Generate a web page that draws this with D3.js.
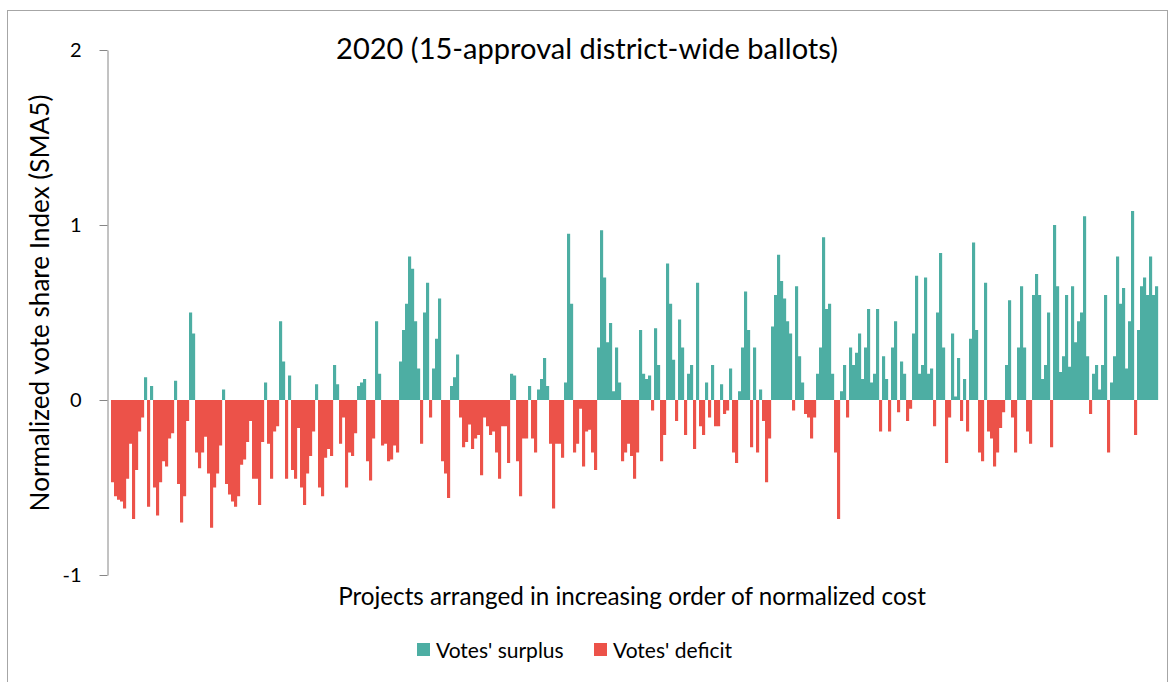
<!DOCTYPE html>
<html>
<head>
<meta charset="utf-8">
<script src="https://cdn.jsdelivr.net/npm/d3@7"></script>
<style>
  body { margin: 0; background: #fff; }
  svg { display: block; }
  text { font-family: Lato, "Open Sans", "DejaVu Sans", sans-serif; fill: #000; }
</style>
</head>
<body>
<svg id="chart" width="1171" height="682"></svg>
<script>
// Chart text
const chartTitle = "2020 (15-approval district-wide ballots)";
const yAxisTitle = "Normalized vote share Index (SMA5)";
const xAxisTitle = "Projects arranged in increasing order of normalized cost";
const seriesNames = ["Votes' surplus", "Votes' deficit"];
const yTickValues = [-1, 0, 1, 2];

// Normalized vote share index (SMA5), projects in increasing order of normalized cost
const sma5 = [
  -0.47,-0.55,-0.57,-0.58,-0.62,-0.45,-0.25,-0.68,-0.40,-0.18,
  -0.10, 0.13,-0.61, 0.08,-0.50,-0.66,-0.47,-0.35,-0.38,-0.22,
  -0.19, 0.11,-0.48,-0.70,-0.55,-0.12, 0.50, 0.38,-0.30,-0.39,
  -0.30,-0.21,-0.42,-0.73,-0.50,-0.42,-0.26, 0.06,-0.48,-0.54,
  -0.58,-0.61,-0.55,-0.37,-0.34,-0.24,-0.12,-0.45,-0.45,-0.60,
  -0.24, 0.10,-0.25,-0.45,-0.18,-0.15, 0.45, 0.22,-0.45, 0.14,
  -0.40,-0.45,-0.16,-0.50,-0.60,-0.42,-0.32,-0.18, 0.09,-0.50,
  -0.55,-0.33,-0.28,-0.32, 0.20, 0.09,-0.25,-0.10,-0.50,-0.30,
  -0.32,-0.19, 0.08, 0.10, 0.12,-0.35,-0.46,-0.22, 0.45, 0.15,
  -0.26,-0.25,-0.35,-0.34,-0.26,-0.30, 0.22, 0.40, 0.55, 0.82,
   0.75, 0.45, 0.18,-0.25, 0.50, 0.67,-0.10, 0.18, 0.35, 0.58,
  -0.35,-0.42,-0.56, 0.08, 0.13, 0.26,-0.10,-0.27,-0.24,-0.14,
  -0.28,-0.22,-0.20,-0.43,-0.10,-0.15,-0.20,-0.18,-0.30,-0.45,
  -0.15,-0.15,-0.36, 0.15, 0.14,-0.35,-0.55,-0.22,-0.22, 0.08,
  -0.22,-0.30, 0.06, 0.12, 0.24, 0.08,-0.25,-0.62,-0.25,-0.25,
  -0.33, 0.10, 0.95, 0.55,-0.30,-0.25,-0.05,-0.38,-0.18,-0.17,
  -0.30,-0.40, 0.30, 0.97, 0.70, 0.33, 0.44, 0.05, 0.30, 0.10,
  -0.35,-0.30,-0.25,-0.32,-0.45,-0.30, 0.40, 0.15, 0.12, 0.14,
  -0.06, 0.41, 0.20,-0.35,-0.20, 0.78, 0.55, 0.23,-0.12, 0.46,
   0.30,-0.20, 0.15, 0.20,-0.28, 0.67,-0.15,-0.20, 0.10,-0.10,
   0.20,-0.15,-0.15, 0.09,-0.08,-0.06, 0.18,-0.30,-0.36, 0.05,
   0.30, 0.62, 0.40,-0.27, 0.30,-0.30, 0.06,-0.12,-0.47,-0.22,
   0.42, 0.60, 0.83, 0.68, 0.58, 0.45, 0.38,-0.06, 0.65, 0.25,
   0.10,-0.08,-0.10,-0.22,-0.10, 0.15, 0.30, 0.93, 0.52, 0.55,
   0.15,-0.30,-0.68, 0.05, 0.20,-0.10, 0.30, 0.20, 0.27, 0.38,
   0.12, 0.30, 0.52, 0.10, 0.15, 0.52,-0.18, 0.25, 0.12,-0.18,
   0.30, 0.45,-0.07, 0.22, 0.15,-0.12,-0.05, 0.38, 0.71, 0.15,
   0.20, 0.70, 0.15, 0.18,-0.15, 0.50, 0.84, 0.30,-0.36,-0.10,
   0.38, 0.02, 0.24,-0.12, 0.12,-0.18, 0.35, 0.90, 0.40,-0.30,
  -0.35, 0.67,-0.18,-0.22,-0.38,-0.30,-0.16,-0.07, 0.20, 0.57,
  -0.10,-0.30, 0.30, 0.65, 0.30,-0.18,-0.25, 0.60, 0.72, 0.60,
   0.12, 0.20, 0.50,-0.27, 1.00, 0.65, 0.16, 0.25, 0.60, 0.19,
   0.65, 0.33, 0.45, 0.50, 1.05, 0.25,-0.08, 0.15, 0.20, 0.06,
   0.20, 0.60,-0.30, 0.10, 0.25, 0.82, 0.55, 0.64, 0.18, 0.45,
   1.08,-0.20, 0.40, 0.65, 0.70, 0.60, 0.82, 0.60, 0.65
];
const projects = sma5.map((_, i) => i + 1);

const colors = { surplus: "#4daea3", deficit: "#ec5249" };

const svg = d3.select("#chart");

// outer chart-area frame
svg.append("rect")
  .attr("x", 7.5).attr("y", 10.5)
  .attr("width", 1160).attr("height", 700)
  .attr("fill", "none").attr("stroke", "#a6a6a6").attr("stroke-width", 1);

const plot = { left: 111, right: 1158, top: 50, bottom: 575 };

const x = d3.scaleBand().domain(projects).range([plot.left, plot.right]).padding(0);
const y = d3.scaleLinear().domain([-1, 2]).range([plot.bottom, plot.top]);

// bars
svg.append("g")
  .selectAll("rect")
  .data(projects)
  .join("rect")
    .attr("x", d => x(d))
    .attr("width", x.bandwidth() + 0.15)
    .attr("y", d => y(Math.max(0, sma5[d - 1])))
    .attr("height", d => Math.abs(y(sma5[d - 1]) - y(0)))
    .attr("fill", d => sma5[d - 1] >= 0 ? colors.surplus : colors.deficit);

// y axis
const yAxis = svg.append("g")
  .attr("transform", "translate(107.5,0)")
  .call(d3.axisLeft(y).tickValues(yTickValues).tickSize(8).tickSizeOuter(0).tickPadding(18)
        .tickFormat(d3.format("d")));
yAxis.select(".domain").attr("stroke", "#868686");
yAxis.selectAll(".tick line").attr("stroke", "#868686");
yAxis.selectAll(".tick text").attr("font-size", 20).attr("fill", "#000")
  .attr("font-family", "Lato, 'Open Sans', sans-serif")
  .text(d => d < 0 ? "-" + Math.abs(d) : d);

// fit a text element to a given width
function fitWidth(sel, w) {
  const node = sel.node();
  const size = parseFloat(sel.attr("font-size"));
  const len = node.getComputedTextLength();
  sel.attr("font-size", (size * w / len).toFixed(2));
  return sel;
}

// title
fitWidth(svg.append("text")
  .attr("x", 587).attr("y", 59)
  .attr("text-anchor", "middle").attr("font-size", 24)
  .text(chartTitle), 502);

// axis titles
fitWidth(svg.append("text")
  .attr("transform", "translate(49,303) rotate(-90)")
  .attr("text-anchor", "middle").attr("font-size", 20)
  .text(yAxisTitle), 417);

fitWidth(svg.append("text")
  .attr("x", 632).attr("y", 605)
  .attr("text-anchor", "middle").attr("font-size", 20)
  .text(xAxisTitle), 588);

// legend
const legendItems = [
  { name: seriesNames[0], color: colors.surplus, x: 417 },
  { name: seriesNames[1], color: colors.deficit, x: 594 }
];
const lg = svg.append("g").selectAll("g").data(legendItems).join("g")
  .attr("transform", d => `translate(${d.x},643)`);
lg.append("rect").attr("width", 13).attr("height", 13).attr("fill", d => d.color);
lg.append("text").attr("x", 19).attr("y", 14.5).attr("font-size", 21).text(d => d.name);
</script>
</body>
</html>
